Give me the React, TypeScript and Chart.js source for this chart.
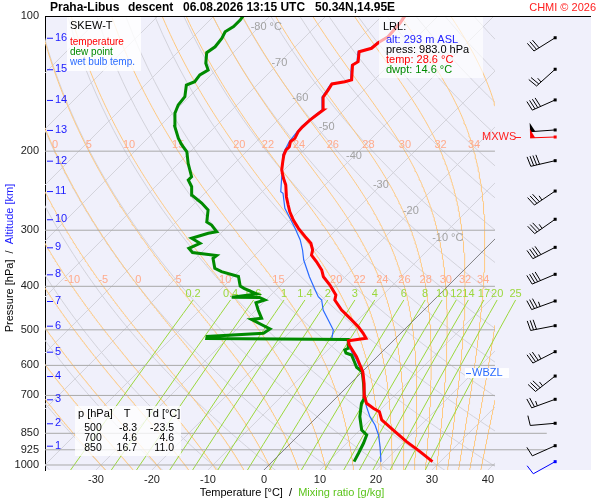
import { useEffect, useRef } from 'react';
import Chart from 'chart.js/auto';

const FONT = '"Liberation Sans", Arial, Helvetica, sans-serif';
Chart.defaults.font.family = FONT;

// skew-T geometry: plotted x = T + SKEW * log10(P_BOTTOM / p)
const P_TOP = 100;
const P_BOTTOM = 1026;
const X_MIN = -39.1;
const X_MAX = 58.4;
const SKEW = 80.18;
const GRID_CLIP = -96; // grid lines stop short of the wind barb column

const pressureTicks = [100, 200, 300, 400, 500, 600, 700, 850, 925, 1000];
const temperatureTicks = [-30, -20, -10, 0, 10, 20, 30, 40];

// temperature profile, surface up (hPa / °C)
const tempP = [983, 933.9, 887.3, 835.6, 793.9, 760.8, 747.6, 728.7, 704.4, 657.7, 619.8, 598.9, 574.0, 540.4, 528.6, 522.1, 508.9, 492.0, 471.4, 451.7, 429.2, 418.3, 397.4, 380.8, 367.9, 352.6, 340.7, 332.0, 320.8, 310.1, 297.1, 284.7, 272.9, 263.6, 252.6, 237.9, 229.9, 220.3, 211.1, 204.0, 198.8, 195.5, 190.5, 187.3, 181.1, 176.5, 170.5, 166.2, 162.0, 151.7, 146.2, 141.7, 140.1, 138.8, 128.6, 126.4, 120.1, 118.0, 114.7, 111.2, 103.7, 100];
const tempT = [28.6, 24.6, 20.4, 15.9, 12.1, 10.2, 8.5, 6.4, 4.9, 2.4, 0.1, -1.6, -3.7, -7.1, -8.0, -5.3, -6.7, -8.75, -11.7, -14.7, -17.7, -18.4, -21.25, -23.9, -25.4, -27.8, -29.9, -30.6, -32.1, -34.3, -37.0, -39.4, -41.5, -43.0, -44.8, -47.0, -48.6, -50.4, -51.7, -52.7, -53.2, -53.2, -53.9, -53.7, -54.3, -54.4, -54.3, -54.0, -53.7, -56.0, -56.4, -56.8, -54.9, -54.0, -56.5, -56.1, -57.7, -56.1, -55.9, -55.2, -55.5, -55.9];

// dew point profile
const dewP = [983, 941.7, 894.6, 857.4, 835.6, 780.5, 728.7, 714.0, 700, 657.7, 619.8, 605.9, 593.6, 568.9, 563.0, 554.4, 549.6, 525.4, 522.7, 517.4, 508.9, 497.9, 474.2, 471.4, 451.7, 435.1, 429.1, 423.6, 423.2, 416.1, 404.2, 399.4, 380.4, 371.1, 364.7, 346.5, 341.5, 336.3, 329.1, 320.8, 312.6, 304.8, 302.2, 292.1, 287.6, 270.5, 260.9, 250.4, 240.0, 231.9, 228.0, 212.9, 200.6, 193.8, 187.3, 176.5, 164.7, 157.8, 151.2, 142.5, 140.1, 135.3, 131.9, 127.5, 120.7, 117.1, 112.1, 108.4, 105.6, 102.1, 100];
const dewT = [14.6, 13.9, 13.0, 12.1, 10.3, 7.6, 5.5, 5.2, 4.6, 2.3, 0.0, -1.8, -2.8, -4.9, -6.25, -7.0, -6.7, -8.25, -33.7, -34.0, -24.5, -24.1, -29.1, -27.5, -29.6, -31.3, -30.2, -31.6, -36.6, -32.7, -36.0, -37.1, -39.1, -43.0, -44.8, -46.9, -46.75, -51.6, -53.0, -51.9, -54.3, -52.2, -51.0, -53.1, -54.5, -56.4, -58.8, -62.0, -63.5, -65.3, -65.3, -68.3, -70.6, -72.7, -74.5, -77.2, -79.6, -80.5, -80.8, -82.6, -81.7, -82.0, -81.4, -83.0, -84.75, -84.3, -84.6, -85.2, -84.6, -84.6, -84.8];

// wet bulb temperature
const wetP = [983, 974.7, 902.8, 857.4, 814.6, 780.5, 741.5, 704.4, 657.7, 619.8, 609.0, 583.7, 559.3, 525.4, 522.2, 500.6, 475.5, 451.7, 429.1, 421.9, 407.6, 380.8, 349.5, 332.0, 315.4, 297.1, 282.2, 268.1, 248.3, 246.2, 228.0, 209.3, 204.0, 198.8, 190.5, 181.1, 176.5, 166.2, 162.0, 151.7, 141.7, 140.1, 138.8, 128.6, 126.4, 120.1, 118.0, 114.7, 111.2, 103.7, 100];
const wetT = [19.4, 19.1, 16.25, 14.2, 11.8, 9.4, 7.0, 4.8, 2.3, 0.0, -1.0, -3.1, -5.5, -8.3, -11.4, -12.6, -15.3, -18.0, -20.05, -21.25, -23.0, -26.4, -30.4, -32.4, -34.6, -37.6, -40.3, -43.0, -46.0, -46.7, -49.2, -52.0, -52.9, -53.4, -54.1, -54.5, -54.6, -54.2, -53.9, -56.2, -57.0, -55.1, -54.2, -56.7, -56.3, -57.9, -56.3, -56.1, -55.4, -55.7, -56.1];

// altitude marks (km) and the pressure where they sit
const altKm = [1, 2, 3, 4, 5, 6, 7, 8, 9, 10, 11, 12, 13, 14, 15, 16];
const altP = [905.8, 807.4, 714.0, 633.7, 559.3, 489.5, 431.3, 376.1, 327.5, 283.6, 245.4, 210.0, 179.4, 153.8, 131.4, 111.8];

// winds at each km level
const windDir = [246, 265, 250, 232, 243, 259, 250, 247, 243, 235, 236, 257, 266, 246, 228, 238];
const windKt = [10, 10, 25, 35, 35, 30, 35, 40, 40, 35, 35, 40, 50, 40, 25, 30];
const surfaceWind = [983, 241, 10]; // p, dir, kt
const maxWind = [186, 268, 50];
const wbzlP = 624;

// background line sets
const isothermT = [-120, -110, -100, -90, -80, -70, -60, -50, -40, -30, -20, -10, 0, 10, 20, 30, 40];
const isoLabelT = [-80, -70, -60, -50, -40, -30, -20, -10];
const isoLabelP = [106, 127, 152, 177, 205, 238, 272, 312];
const dryTheta = [-40, -30, -20, -10, 0, 10, 20, 30, 40, 50, 60, 70, 80, 90, 100, 110, 120, 130, 140, 150, 160, 170, 180, 190, 200];
const moistThetaW = [-30, -25, -20, -15, -10, -5, 0, 5, 10, 15, 20, 22, 24, 26, 28, 30, 32, 34, 36, 38];
const mixingR = [0.2, 0.4, 0.6, 1, 1.4, 2, 3, 4, 6, 8, 10, 12, 14, 17, 20, 25];
const MIX_TOP = 429;

const tableRows = [
  ['500', '-8.3', '-23.5'],
  ['700', '4.6', '4.6'],
  ['850', '16.7', '11.0'],
];

const skewX = (t: number, p: number) => t + SKEW * Math.log10(P_BOTTOM / p);
const toPoints = (ps: number[], ts: number[]) => ps.map((p, i) => ({ x: skewX(ts[i], p), y: p }));

// thermodynamics for the background curves
const Rd = 287.04, Cpd = 1005.7, Lv = 2.501e6, EPS = 0.622;
function satMix(tK: number, p: number) {
  const tc = tK - 273.15;
  const es = 6.112 * Math.exp((17.67 * tc) / (tc + 243.5));
  return (EPS * es) / (p - es);
}
function lapse(tK: number, p: number) {
  const rs = satMix(tK, p);
  return (Rd * tK + Lv * rs) / (p * (Cpd + (Lv * Lv * rs * EPS) / (Rd * tK * tK)));
}
function rk4(t: number, p: number, h: number) {
  const k1 = lapse(t, p);
  const k2 = lapse(t + (h * k1) / 2, p + h / 2);
  const k3 = lapse(t + (h * k2) / 2, p + h / 2);
  const k4 = lapse(t + h * k3, p + h);
  return t + (h * (k1 + 2 * k2 + 2 * k3 + k4)) / 6;
}
function moistCurve(thetaW: number): [number, number][] {
  const up: [number, number][] = [];
  let t = thetaW + 273.15;
  for (let p = 1000; p >= P_TOP; p -= 2) {
    up.push([p, t - 273.15]);
    t = rk4(t, p, -2);
  }
  const down: [number, number][] = [];
  t = thetaW + 273.15;
  for (let p = 1000; p < 1030; p += 2) {
    t = rk4(t, p, 2);
    down.push([p + 2, t - 273.15]);
  }
  return [...down.reverse(), ...up];
}
function mixingT(r: number, p: number) {
  const e = ((r / 1000) * p) / (EPS + r / 1000);
  const a = Math.log(e / 6.112);
  return (243.5 * a) / (17.67 - a);
}

const curveLevels: number[] = [];
for (let p = 1030; p >= P_TOP; p -= 10) curveLevels.push(p);

const moistCurves = moistThetaW.map((tw) => moistCurve(tw));

function line(data: { x: number; y: number }[], color: string, width: number, clip?: any) {
  const ds: any = {
    data,
    showLine: true,
    borderColor: color,
    borderWidth: width,
    pointRadius: 0,
    fill: false,
    tension: 0,
  };
  if (clip !== undefined) ds.clip = clip;
  return ds;
}

function buildDatasets() {
  const gridClip = { left: 0, top: 0, bottom: 0, right: GRID_CLIP };
  const sets: any[] = [];
  // profiles first so they are painted last
  sets.push(line(toPoints(tempP, tempT), '#ff0000', 3));
  sets.push(line(toPoints(dewP, dewT), '#008a00', 3));
  sets.push(line(toPoints(wetP, wetT), '#2a6bff', 1.2));

  // zero isotherm
  sets.push(line([{ x: skewX(0, P_BOTTOM), y: P_BOTTOM }, { x: skewX(0, P_TOP), y: P_TOP }], '#6e6e6e', 0.8, gridClip));

  // pressure lines
  pressureTicks.forEach((p) => {
    const right = p === 850 || p === 925 ? 50.5 : 41.25;
    sets.push(line([{ x: X_MIN, y: p }, { x: right, y: p }], '#a9a9a9', 1));
  });

  mixingR.forEach((r) => {
    const pts = [1030, 1000, 950, 900, 850, 800, 750, 700, 650, 600, 550, 500, 460, MIX_TOP].map((p) => ({ x: skewX(mixingT(r, p), p), y: p }));
    sets.push(line(pts, '#9bd83c', 1));
  });

  moistCurves.forEach((c) => {
    sets.push(line(c.map(([p, t]) => ({ x: skewX(t, p), y: p })), '#ffc97f', 1, gridClip));
  });

  dryTheta.forEach((th) => {
    const pts = curveLevels.map((p) => ({ x: skewX((th + 273.15) * Math.pow(p / 1000, 0.2857) - 273.15, p), y: p }));
    sets.push(line(pts, '#d3d3db', 1, gridClip));
  });

  isothermT.forEach((t) => {
    sets.push(line([{ x: skewX(t, 1030), y: 1030 }, { x: skewX(t, P_TOP), y: P_TOP }], '#d3d3db', 1, gridClip));
  });
  return sets;
}

function drawBarb(ctx: CanvasRenderingContext2D, x: number, y: number, dir: number, kt: number, color: string) {
  const r = (dir * Math.PI) / 180;
  const ux = Math.sin(r), uy = -Math.cos(r);
  const px = -uy, py = ux;
  const staff = 25;
  ctx.save();
  ctx.strokeStyle = color;
  ctx.fillStyle = color;
  ctx.lineWidth = 1;
  ctx.beginPath();
  ctx.moveTo(x, y);
  ctx.lineTo(x + ux * staff, y + uy * staff);
  ctx.stroke();
  ctx.fillRect(x - 1.5, y - 1.5, 3, 3);
  let left = Math.round(kt / 5) * 5;
  let d = staff;
  while (left >= 50) {
    const bx = x + ux * d, by = y + uy * d;
    ctx.beginPath();
    ctx.moveTo(bx, by);
    ctx.lineTo(bx + px * 9, by + py * 9);
    ctx.lineTo(x + ux * (d - 5), y + uy * (d - 5));
    ctx.closePath();
    ctx.fill();
    d -= 7;
    left -= 50;
  }
  while (left >= 10) {
    const bx = x + ux * d, by = y + uy * d;
    ctx.beginPath();
    ctx.moveTo(bx, by);
    ctx.lineTo(bx + px * 10 + ux * 1.5, by + py * 10 + uy * 1.5);
    ctx.stroke();
    d -= 3;
    left -= 10;
  }
  if (left >= 5) {
    const bx = x + ux * d, by = y + uy * d;
    ctx.beginPath();
    ctx.moveTo(bx, by);
    ctx.lineTo(bx + px * 5, by + py * 5);
    ctx.stroke();
  }
  ctx.restore();
}

function text(ctx: CanvasRenderingContext2D, s: string, x: number, y: number, color: string, size = 11, align: CanvasTextAlign = 'left', bold = false) {
  ctx.font = `${bold ? 'bold ' : ''}${size}px ${FONT}`;
  ctx.fillStyle = color;
  ctx.textAlign = align;
  ctx.textBaseline = 'middle';
  ctx.fillText(s, x, y);
}

const skewTPlugin = {
  id: 'skewT',
  beforeDraw(chart: any) {
    const { ctx, chartArea: a } = chart;
    ctx.save();
    ctx.fillStyle = '#ffffff';
    ctx.fillRect(0, 0, chart.width, chart.height);
    ctx.fillStyle = '#f0f0fb';
    ctx.fillRect(a.left, a.top, a.right - a.left, a.bottom - a.top);
    ctx.restore();
  },
  beforeDatasetDraw(chart: any, args: any) {
    if (args.index !== 2) return;
    const { ctx } = chart;
    const xs = chart.scales.x, ys = chart.scales.y;
    const gridRight = chart.chartArea.right + GRID_CLIP;
    ctx.save();
    // moist adiabat labels on 200 and 400 hPa
    [200, 400].forEach((lev) => {
      const py = ys.getPixelForValue(lev) - 6;
      moistThetaW.forEach((tw, i) => {
        const pt = moistCurves[i].find(([p]) => p === lev);
        if (!pt) return;
        const px = xs.getPixelForValue(skewX(pt[1], lev));
        if (px < chart.chartArea.left + 4 || px > gridRight - 4) return;
        text(ctx, String(tw), px, py, '#ffab8c', 11, 'center');
      });
    });
    // mixing ratio labels
    const my = ys.getPixelForValue(MIX_TOP) - 6;
    mixingR.forEach((r) => {
      const px = xs.getPixelForValue(skewX(mixingT(r, MIX_TOP), MIX_TOP));
      text(ctx, String(r), px, my, '#9bd83c', 11, 'center');
    });
    // isotherm labels
    isoLabelT.forEach((t, i) => {
      const p = isoLabelP[i];
      const px = xs.getPixelForValue(skewX(t, p));
      const py = ys.getPixelForValue(p);
      const s = String(t);
      ctx.font = `11px ${FONT}`;
      const w = ctx.measureText(s).width;
      const full = i === 0 || i === isoLabelT.length - 1 ? s + ' °C' : s;
      text(ctx, full, px - w / 2, py, '#a2a2a2', 11, 'left');
    });
    ctx.restore();
  },
  afterDatasetsDraw(chart: any) {
    const { ctx, chartArea: a } = chart;
    const xs = chart.scales.x, ys = chart.scales.y;
    ctx.save();

    // top frame line
    ctx.strokeStyle = '#000';
    ctx.lineWidth = 1;
    ctx.beginPath();
    ctx.moveTo(a.left, a.top + 0.5);
    ctx.lineTo(a.right, a.top + 0.5);
    ctx.stroke();

    // altitude marks
    altKm.forEach((km, i) => {
      const py = ys.getPixelForValue(altP[i]);
      ctx.strokeStyle = '#1a1aff';
      ctx.beginPath();
      ctx.moveTo(a.left + 2, py + 0.5);
      ctx.lineTo(a.left + 8, py + 0.5);
      ctx.stroke();
      text(ctx, String(km), a.left + 10, py, '#1a1aff', 11);
    });

    // legend box
    ctx.fillStyle = 'rgba(255,255,255,0.82)';
    ctx.fillRect(67, 17, 74, 54);
    text(ctx, 'SKEW-T', 70, 26, '#000', 11);
    text(ctx, 'temperature', 70, 42, '#ff0000', 10);
    text(ctx, 'dew point', 70, 52, '#008a00', 10);
    text(ctx, 'wet bulb temp.', 70, 62, '#2a6bff', 10);

    // lifted reference level box
    ctx.fillStyle = 'rgba(255,255,255,0.66)';
    ctx.fillRect(379, 17, 104, 61);
    text(ctx, 'LRL:', 383, 27, '#000', 11);
    text(ctx, 'alt: 293 m ASL', 386, 40, '#1a1aff', 11);
    text(ctx, 'press: 983.0 hPa', 386, 50, '#000', 11);
    text(ctx, 'temp: 28.6 °C', 386, 60, '#ff0000', 11);
    text(ctx, 'dwpt: 14.6 °C', 386, 70, '#008a00', 11);

    // level table
    ctx.fillStyle = 'rgba(255,255,255,0.78)';
    ctx.fillRect(75, 406, 106, 50);
    text(ctx, 'p [hPa]', 78, 414, '#000', 11);
    text(ctx, 'T', 127, 414, '#000', 11, 'center');
    text(ctx, 'Td [°C]', 146, 414, '#000', 11);
    tableRows.forEach((row, i) => {
      const y = 428 + i * 10;
      text(ctx, row[0], 93, y, '#000', 10.5, 'center');
      text(ctx, row[1], 137, y, '#000', 10.5, 'right');
      text(ctx, row[2], 174, y, '#000', 10.5, 'right');
    });

    // wet bulb zero level
    const wy = ys.getPixelForValue(wbzlP);
    ctx.fillStyle = 'rgba(255,255,255,0.9)';
    ctx.fillRect(465, wy - 5, 44, 10);
    ctx.strokeStyle = '#2a6bff';
    ctx.beginPath();
    ctx.moveTo(466, wy + 0.5);
    ctx.lineTo(471, wy + 0.5);
    ctx.stroke();
    text(ctx, 'WBZL', 472, wy, '#2a6bff', 11);

    // wind barbs
    const bx = xs.getPixelForValue(52);
    altP.forEach((p, i) => drawBarb(ctx, bx, ys.getPixelForValue(p), windDir[i], windKt[i], '#000'));
    drawBarb(ctx, bx, ys.getPixelForValue(surfaceWind[0]), surfaceWind[1], surfaceWind[2], '#0000ff');
    const my = ys.getPixelForValue(maxWind[0]);
    drawBarb(ctx, bx, my, maxWind[1], maxWind[2], '#ff0000');
    text(ctx, 'MXWS', 482, my, '#ff2020', 11);
    ctx.strokeStyle = '#ff2020';
    ctx.beginPath();
    ctx.moveTo(515, my + 0.5);
    ctx.lineTo(521, my + 0.5);
    ctx.stroke();
    ctx.restore();
  },
  afterDraw(chart: any) {
    const { ctx } = chart;
    ctx.save();
    text(ctx, 'Praha-Libus', 50, 8, '#000', 12, 'left', true);
    text(ctx, 'descent', 128, 8, '#000', 12, 'left', true);
    text(ctx, '06.08.2026 13:15 UTC', 183, 8, '#000', 12, 'left', true);
    text(ctx, '50.34N,14.95E', 315, 8, '#000', 12, 'left', true);
    text(ctx, 'CHMI © 2026', 596, 8, '#ff2020', 11, 'right');

    // x axis title in two colours
    ctx.font = `11px ${FONT}`;
    const xParts: [string, string][] = [['Temperature [°C]  /  ', '#000'], ['Mixing ratio [g/kg]', '#5cc41c']];
    let total = xParts.reduce((s, [t]) => s + ctx.measureText(t).width, 0);
    let x = 292 - total / 2;
    xParts.forEach(([t, c]) => {
      text(ctx, t, x, 493, c, 11);
      x += ctx.measureText(t).width;
    });

    // y axis title, rotated
    const yParts: [string, string][] = [['Pressure [hPa]  /  ', '#000'], ['Altitude [km]', '#1a1aff']];
    ctx.font = `11px ${FONT}`;
    total = yParts.reduce((s, [t]) => s + ctx.measureText(t).width, 0);
    ctx.translate(10, 258);
    ctx.rotate(-Math.PI / 2);
    let pos = -total / 2;
    yParts.forEach(([t, c]) => {
      text(ctx, t, pos, 0, c, 11);
      pos += ctx.measureText(t).width;
    });
    ctx.restore();
  },
};

export default function App() {
  const canvasRef = useRef<HTMLCanvasElement>(null);

  useEffect(() => {
    document.body.style.margin = '0';
    if (!canvasRef.current) return;

    const chart = new Chart(canvasRef.current, {
      type: 'scatter',
      data: { datasets: buildDatasets() },
      options: {
        responsive: false,
        animation: false,
        events: [],
        layout: { padding: { top: 16, right: 9, left: 0, bottom: 0 } },
        plugins: {
          legend: { display: false },
          tooltip: { enabled: false },
          title: { display: false },
        },
        scales: {
          x: {
            type: 'linear',
            min: X_MIN,
            max: X_MAX,
            bounds: 'data',
            grid: { display: false, drawTicks: false },
            border: { display: false },
            afterBuildTicks: (axis: any) => {
              axis.ticks = temperatureTicks.map((v) => ({ value: v }));
            },
            afterFit: (axis: any) => {
              axis.height = 30;
            },
            ticks: {
              autoSkip: false,
              maxRotation: 0,
              padding: 3,
              color: '#222',
              font: { size: 11, family: FONT },
              callback: (v: any) => String(v),
            },
          },
          y: {
            type: 'logarithmic',
            reverse: true,
            min: P_TOP,
            max: P_BOTTOM,
            bounds: 'data',
            grid: { display: false, drawTicks: false },
            border: { display: true, color: '#000', width: 1 },
            afterBuildTicks: (axis: any) => {
              axis.ticks = pressureTicks.map((v) => ({ value: v }));
            },
            afterFit: (axis: any) => {
              axis.width = 45;
            },
            ticks: {
              autoSkip: false,
              padding: 6,
              color: '#222',
              font: { size: 11, family: FONT },
              callback: (v: any) => String(v),
            },
          },
        },
      },
      plugins: [skewTPlugin],
    } as any);

    return () => chart.destroy();
  }, []);

  return (
    <div style={{ width: 600, height: 500 }}>
      <canvas ref={canvasRef} width={600} height={500} style={{ display: 'block' }} />
    </div>
  );
}
